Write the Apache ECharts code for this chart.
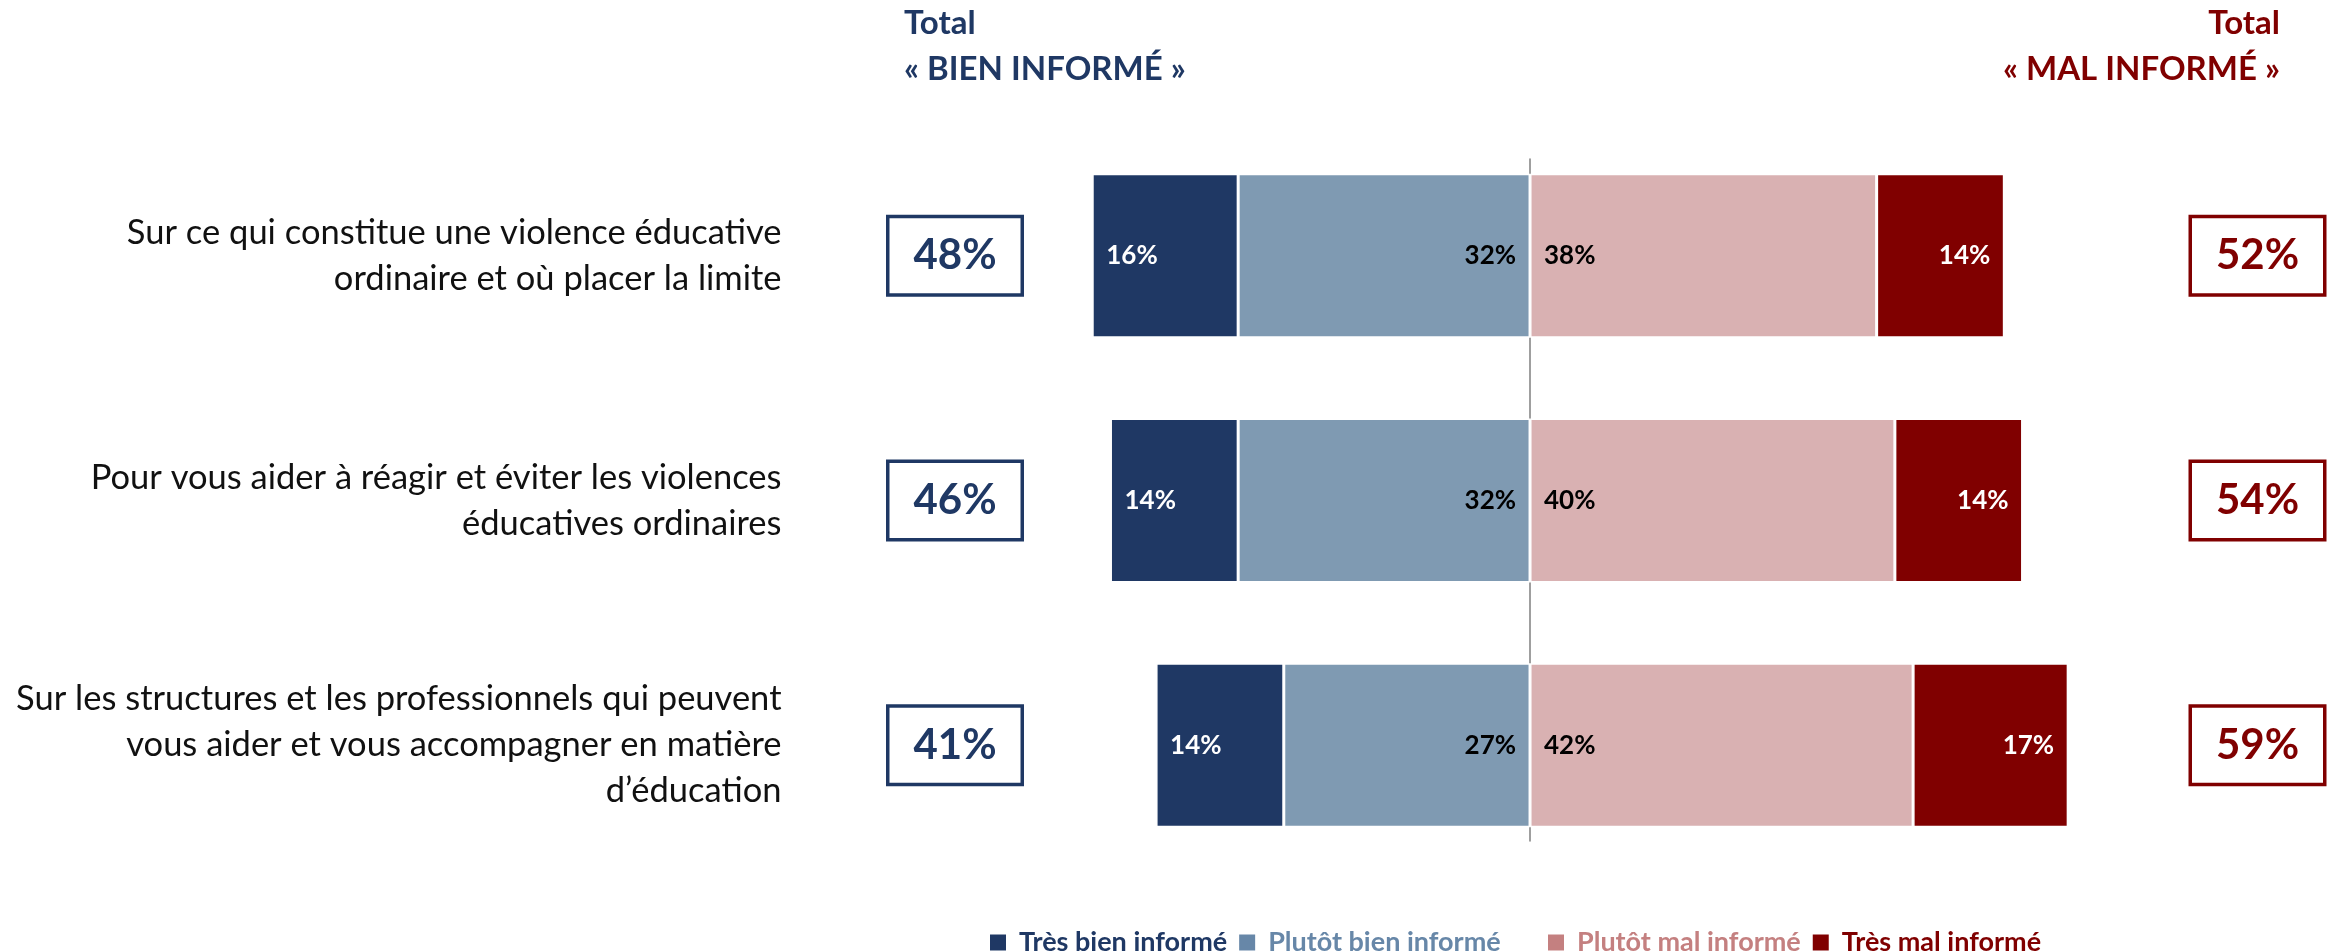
<!DOCTYPE html>
<html>
<head>
<meta charset="utf-8">
<script src="https://cdn.jsdelivr.net/npm/echarts@6/dist/echarts.min.js"></script>
<style>
html,body{margin:0;padding:0;background:#fff;}
#chart{width:2333px;height:952px;}
</style>
</head>
<body>
<div id="chart"></div>
<script>
// ---- data ----
var categories = [
  "Sur ce qui constitue une violence éducative\nordinaire et où placer la limite",
  "Pour vous aider à réagir et éviter les violences\néducatives ordinaires",
  "Sur les structures et les professionnels qui peuvent\nvous aider et vous accompagner en matière\nd’éducation"
];
var seriesNames = ["Très bien informé", "Plutôt bien informé", "Plutôt mal informé", "Très mal informé"];
var tresBien = [16, 14, 14];
var plutotBien = [32, 32, 27];
var plutotMal = [38, 40, 42];
var tresMal = [14, 14, 17];
var headerBien = "Total\n« BIEN INFORMÉ »";
var headerMal = "Total\n« MAL INFORMÉ »";

// ---- derived ----
var totalBien = tresBien.map(function (v, i) { return (v + plutotBien[i]) + "%"; });
var totalMal = plutotMal.map(function (v, i) { return (v + tresMal[i]) + "%"; });
var neg = function (a) { return a.map(function (v) { return -v; }); };

var NAVY = "#1f3864", LBLUE = "#7f9ab2", PINK = "#d9b1b2", DRED = "#800000";
var LEG_BLUE = "#6787a8", LEG_PINK = "#c48080";
var FONT = "Lato";
var XMIN = -54, XMAX = 70;
var GL = 1037.5, GW = 1131;

function barLabel(pos, color) {
  return {
    show: true, position: pos, distance: 14,
    color: color, fontFamily: FONT, fontWeight: "bold", fontSize: 26,
    formatter: function (p) { return Math.abs(p.value) + "%"; }
  };
}
function mkSeries(name, data, color, lbl) {
  return {
    name: name, type: "bar", stack: "all", data: data,
    xAxisIndex: 0, yAxisIndex: 0,
    barWidth: 164,
    itemStyle: { color: color, borderColor: "#ffffff", borderWidth: 1.5 },
    label: lbl,
    emphasis: { disabled: true }
  };
}
function legItem(name, color) {
  return { name: name, itemStyle: { color: color },
    textStyle: { color: color, fontFamily: FONT, fontWeight: "bold", fontSize: 27, padding: [0, 0, 0, 7] } };
}
function mkLegend(left, items) {
  return {
    top: 924, left: left, orient: "horizontal",
    itemWidth: 18, itemHeight: 18, itemGap: 10,
    icon: "rect", selectedMode: false,
    textStyle: { fontFamily: FONT, fontWeight: "bold", fontSize: 27, padding: [0, 0, 0, 7] },
    data: items
  };
}

var chart = echarts.init(document.getElementById("chart"));
chart.setOption({
  animation: false,
  backgroundColor: "#ffffff",
  textStyle: { fontFamily: FONT },
  title: [
    { text: headerBien, left: 904, top: 0, padding: 0,
      textStyle: { color: NAVY, fontFamily: FONT, fontWeight: "bold", fontSize: 33, lineHeight: 46 } },
    { text: headerMal, left: 2280, top: 0, padding: 0, textAlign: "right",
      textStyle: { color: DRED, fontFamily: FONT, fontWeight: "bold", fontSize: 33, lineHeight: 46 } }
  ],
  legend: [
    mkLegend(983, [legItem(seriesNames[0], NAVY), legItem(seriesNames[1], LEG_BLUE)]),
    mkLegend(1541, [legItem(seriesNames[2], LEG_PINK), legItem(seriesNames[3], DRED)])
  ],
  grid: [
    { left: GL, width: GW, top: 133.5, bottom: 84.5, containLabel: false },
    { left: GL, width: GW, top: 159, bottom: 111, containLabel: false }
  ],
  xAxis: [
    { type: "value", gridIndex: 0, min: XMIN, max: XMAX, show: false },
    { type: "value", gridIndex: 1, min: XMIN, max: XMAX, show: false }
  ],
  yAxis: [
    { type: "category", gridIndex: 0, data: categories, inverse: true, position: "left",
      axisLine: { show: false }, axisTick: { show: false }, splitLine: { show: false },
      axisLabel: { margin: 256, align: "right", color: "#111", fontFamily: FONT, fontSize: 34.5, lineHeight: 46 } },
    { type: "category", gridIndex: 0, data: totalBien, inverse: true, position: "left",
      axisLine: { show: false }, axisTick: { show: false }, splitLine: { show: false },
      axisLabel: { margin: 82.5, align: "center", verticalAlign: "middle",
        color: NAVY, fontFamily: FONT, fontWeight: "bold", fontSize: 42,
        backgroundColor: "#fff", borderColor: NAVY, borderWidth: 3.5,
        width: 131, height: 75, lineHeight: 75 } },
    { type: "category", gridIndex: 0, data: totalMal, inverse: true, position: "right",
      axisLine: { show: false }, axisTick: { show: false }, splitLine: { show: false },
      axisLabel: { margin: 89, align: "center", verticalAlign: "middle",
        color: DRED, fontFamily: FONT, fontWeight: "bold", fontSize: 42,
        backgroundColor: "#fff", borderColor: DRED, borderWidth: 3.5,
        width: 131, height: 75, lineHeight: 75 } },
    { type: "value", gridIndex: 1, min: 0, max: 1,
      axisLine: { show: true, onZero: true, lineStyle: { color: "#7f7f7f", width: 1.5 } },
      axisTick: { show: false }, axisLabel: { show: false }, splitLine: { show: false } }
  ],
  series: [
    mkSeries(seriesNames[1], neg(plutotBien), LBLUE, barLabel("insideRight", "#000")),
    mkSeries(seriesNames[0], neg(tresBien), NAVY, barLabel("insideLeft", "#fff")),
    mkSeries(seriesNames[2], plutotMal, PINK, barLabel("insideLeft", "#000")),
    mkSeries(seriesNames[3], tresMal, DRED, barLabel("insideRight", "#fff"))
  ]
});
</script>
</body>
</html>
